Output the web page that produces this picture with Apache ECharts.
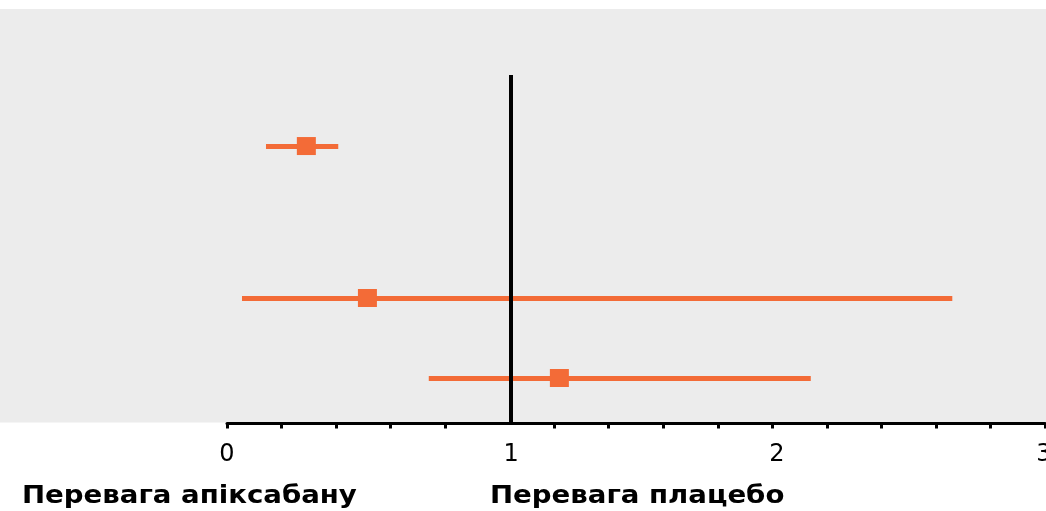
<!DOCTYPE html>
<html>
<head>
<meta charset="utf-8">
<script src="https://cdn.jsdelivr.net/npm/echarts@6/dist/echarts.min.js"></script>
<style>
html,body{margin:0;padding:0;background:#fff;}
#chart{width:1046px;height:511px;}
</style>
</head>
<body>
<div id="chart"></div>
<script>
// Data
const rowY      = [6.71, 3.035, 1.10];       // vertical placement of each row
const estimate  = [0.291, 0.515, 1.219];     // point estimates (squares)
const lowerCI   = [0.143, 0.055, 0.740];     // left whisker ends
const upperCI   = [0.408, 2.660, 2.141];     // right whisker ends
const refLineX  = 1.042;                     // reference (no-effect) line
const refLineTop = 8.43;
const tickValues = [0,0.2,0.4,0.6,0.8,1.2,1.4,1.6,1.8,2.0,2.2,2.4,2.6,2.8,3.0];
const tickLabelPos = [0, 1.042, 2.017, 2.996];
const tickLabels = ['0','1','2','3'];
const leftCaption = 'Перевага апіксабану';
const rightCaption = 'Перевага плацебо';

const orange = '#f36b37';
const chart = echarts.init(document.getElementById('chart'), null, {renderer:'canvas'});

const option = {
  animation: false,
  backgroundColor: '#ffffff',
  grid: {left: 227, right: 1, top: 10, bottom: 87.5, containLabel: false, outerBoundsMode: 'none'},
  graphic: [
    {type:'rect', z: 0, shape:{x:0, y:9, width:1046, height:413.5}, style:{fill:'#ececec'}},
    {type:'text', z: 10, x: 22, y: 485, scaleX: 1.15,
      style:{text: leftCaption, font:'bold 24px "DejaVu Sans"', fill:'#000', verticalAlign:'top'}},
    {type:'text', z: 10, x: 490, y: 485, scaleX: 1.15,
      style:{text: rightCaption, font:'bold 24px "DejaVu Sans"', fill:'#000', verticalAlign:'top'}}
  ],
  xAxis: {
    type: 'value', min: 0, max: 3, interval: 0.2,
    splitLine: {show:false},
    axisLine: {show:true, onZero:false, lineStyle:{color:'#000', width:3}},
    axisTick: {show:true, inside:false, length:5, customValues: tickValues, lineStyle:{color:'#000', width:3}},
    axisLabel: {
      show: true, margin: 19, customValues: tickLabelPos,
      color:'#000', fontSize: 24, fontFamily:'"DejaVu Sans"',
      formatter: function(v){ return tickLabels[Math.round(v)]; }
    }
  },
  yAxis: {
    type: 'value', min: 0, max: 10, show: false,
    splitLine:{show:false}
  },
  series: [
    {
      type: 'lines', coordinateSystem: 'cartesian2d', z: 3,
      lineStyle: {color: orange, width: 5, opacity: 1, cap: 'butt'},
      data: rowY.map((y,i)=>({coords: [[lowerCI[i], y],[upperCI[i], y]]}))
    },
    {
      type: 'lines', coordinateSystem: 'cartesian2d', z: 4,
      lineStyle: {color: '#000', width: 4, opacity: 1, cap: 'butt'},
      data: [{coords: [[refLineX, 0],[refLineX, refLineTop]]}]
    },
    {
      type: 'scatter', z: 5, symbol: 'rect', symbolSize: [19,18],
      itemStyle: {color: orange, opacity: 1},
      data: rowY.map((y,i)=>[estimate[i], y])
    }
  ]
};
chart.setOption(option);
</script>
</body>
</html>
